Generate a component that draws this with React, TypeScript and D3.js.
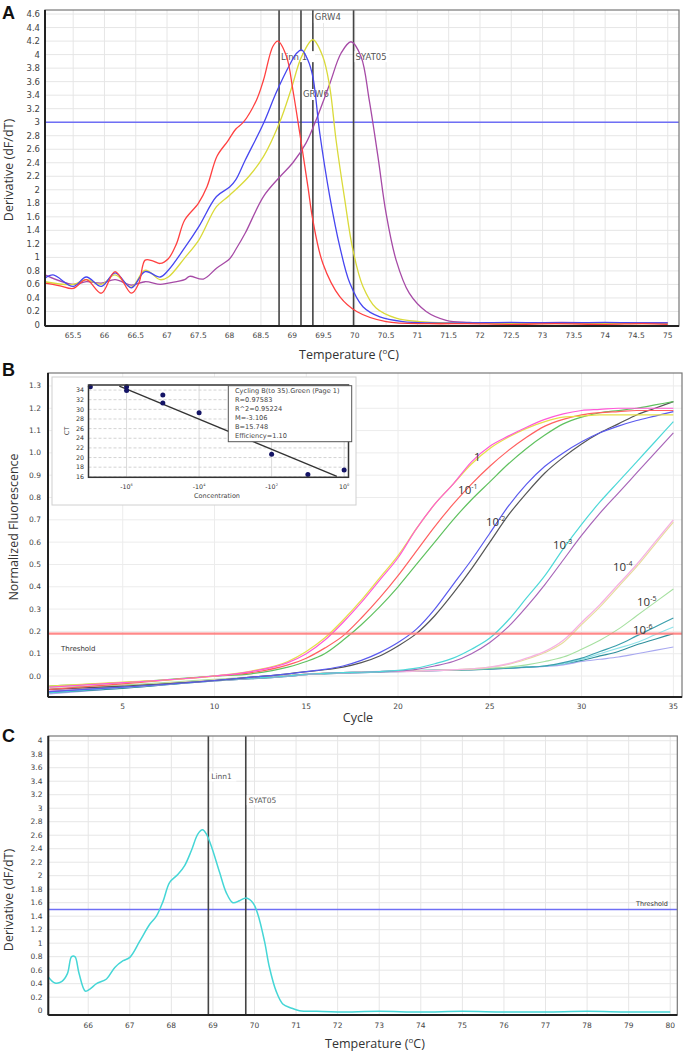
import React from "react";
import * as d3 from "d3";

type P = [number, number];

// ---------------- Panel A: melt curves (4 markers) ----------------
const aTempTicks = [65.5, 66, 66.5, 67, 67.5, 68, 68.5, 69, 69.5, 70, 70.5, 71, 71.5, 72, 72.5, 73, 73.5, 74, 74.5, 75];
const aDerivTicks = [0, 0.2, 0.4, 0.6, 0.8, 1, 1.2, 1.4, 1.6, 1.8, 2, 2.2, 2.4, 2.6, 2.8, 3, 3.2, 3.4, 3.6, 3.8, 4, 4.2, 4.4, 4.6];
const aThreshold = 3.0;

const meltRed: P[] = [
  [65.05, 0.62], [65.29, 0.58], [65.5, 0.54], [65.71, 0.67], [65.95, 0.47], [66.17, 0.79], [66.43, 0.47], [66.55, 0.62],
  [66.65, 0.96], [66.77, 0.95], [66.89, 0.91], [67.02, 0.98], [67.15, 1.2], [67.28, 1.55], [67.5, 1.8], [67.64, 2.05],
  [67.8, 2.5], [67.97, 2.72], [68.1, 2.9], [68.22, 3.0], [68.43, 3.33], [68.54, 3.62], [68.69, 4.12], [68.77, 4.2],
  [68.91, 3.97], [69.01, 3.48], [69.12, 2.84], [69.25, 2.05], [69.33, 1.55], [69.49, 0.91], [69.76, 0.42], [70.03, 0.2],
  [70.5, 0.05], [71.2, 0.02], [71.8, 0.02], [72.5, 0.01], [73.2, 0.02], [74.0, 0.01], [74.6, 0.02], [75.0, 0.01],
];
const meltBlue: P[] = [
  [65.05, 0.69], [65.18, 0.74], [65.5, 0.57], [65.71, 0.71], [65.95, 0.57], [66.17, 0.77], [66.43, 0.55], [66.65, 0.79],
  [66.89, 0.71], [67.02, 0.81], [67.28, 1.14], [67.51, 1.46], [67.79, 1.9], [68.0, 2.04], [68.1, 2.15], [68.25, 2.44],
  [68.54, 2.98], [68.75, 3.45], [68.96, 3.85], [69.07, 4.02], [69.15, 4.07], [69.25, 3.92], [69.33, 3.67], [69.44, 2.84],
  [69.6, 1.9], [69.76, 1.16], [69.92, 0.62], [70.13, 0.27], [70.4, 0.12], [70.77, 0.05], [71.2, 0.03], [71.8, 0.03],
  [72.5, 0.04], [73.2, 0.03], [74.0, 0.04], [74.6, 0.03], [75.0, 0.03],
];
const meltYellow: P[] = [
  [65.05, 0.64], [65.5, 0.6], [65.71, 0.67], [65.95, 0.6], [66.17, 0.74], [66.43, 0.56], [66.65, 0.81], [66.89, 0.67],
  [67.02, 0.71], [67.28, 0.99], [67.51, 1.26], [67.79, 1.75], [68.0, 1.92], [68.3, 2.19], [68.54, 2.49], [68.8, 3.0],
  [68.98, 3.48], [69.15, 3.97], [69.33, 4.22], [69.49, 3.97], [69.6, 3.52], [69.7, 2.74], [69.84, 1.85], [69.97, 1.11],
  [70.13, 0.57], [70.34, 0.25], [70.66, 0.1], [71.04, 0.05], [71.6, 0.03], [72.5, 0.02], [73.5, 0.02], [74.5, 0.02], [75.0, 0.02],
];
const meltPurple: P[] = [
  [65.05, 0.74], [65.5, 0.6], [65.71, 0.64], [65.95, 0.62], [66.17, 0.67], [66.43, 0.59], [66.65, 0.64], [66.89, 0.6],
  [67.02, 0.62], [67.28, 0.67], [67.36, 0.72], [67.58, 0.68], [67.79, 0.84], [68.0, 0.98], [68.1, 1.12], [68.25, 1.36],
  [68.54, 1.9], [68.8, 2.19], [69.01, 2.4], [69.22, 2.69], [69.38, 3.03], [69.6, 3.57], [69.78, 4.02], [69.94, 4.19],
  [70.1, 3.97], [70.23, 3.33], [70.37, 2.49], [70.5, 1.65], [70.66, 0.96], [70.87, 0.47], [71.14, 0.2], [71.46, 0.07],
  [71.83, 0.04], [72.5, 0.03], [73.3, 0.04], [74.2, 0.03], [75.0, 0.03],
];
const aMarkerNames = ["Linn 1", "GRW6", "GRW4", "SYAT05"];
const aMarkerTemps = [68.79, 69.14, 69.33, 69.98];
const aMarkerLabelV = [3.97, 3.41, 4.55, 3.97];

// ---------------- Panel B: amplification curves ----------------
const bCycleTicks = [5, 10, 15, 20, 25, 30, 35];
const bFluorTicks = [0.0, 0.1, 0.2, 0.3, 0.4, 0.5, 0.6, 0.7, 0.8, 0.9, 1.0, 1.1, 1.2, 1.3];
const bThreshold = 0.19;
const cycles = [1, 5, 10, 12, 14, 15, 16, 17, 18, 19, 20, 21, 22, 23, 24, 25, 26, 27, 28, 29, 30, 31, 32, 33, 34, 35];

const ampPink = [-0.05, -0.03, 0.0, 0.02, 0.06, 0.10, 0.16, 0.24, 0.33, 0.43, 0.53, 0.66, 0.77, 0.86, 0.96, 1.03, 1.075, 1.115, 1.15, 1.175, 1.19, 1.195, 1.2, 1.2, 1.2, 1.2];
const ampYellow = [-0.045, -0.028, 0.0, 0.022, 0.065, 0.11, 0.17, 0.25, 0.34, 0.44, 0.54, 0.66, 0.77, 0.86, 0.95, 1.02, 1.07, 1.11, 1.14, 1.16, 1.165, 1.17, 1.17, 1.17, 1.17, 1.17];
const ampRed = [-0.06, -0.035, 0.0, 0.015, 0.05, 0.08, 0.125, 0.18, 0.26, 0.35, 0.45, 0.56, 0.67, 0.77, 0.86, 0.94, 1.01, 1.07, 1.12, 1.15, 1.17, 1.18, 1.185, 1.19, 1.19, 1.19];
const ampGreen = [-0.045, -0.03, 0.0, 0.01, 0.04, 0.065, 0.10, 0.16, 0.23, 0.31, 0.40, 0.50, 0.60, 0.70, 0.79, 0.87, 0.95, 1.02, 1.08, 1.13, 1.16, 1.18, 1.19, 1.2, 1.215, 1.23];
const ampBlue = [-0.07, -0.05, -0.02, -0.005, 0.01, 0.02, 0.03, 0.045, 0.07, 0.105, 0.15, 0.21, 0.30, 0.41, 0.52, 0.64, 0.76, 0.86, 0.94, 1.0, 1.05, 1.09, 1.12, 1.145, 1.165, 1.185];
const ampGray = [-0.06, -0.045, -0.02, -0.005, 0.01, 0.02, 0.028, 0.04, 0.06, 0.09, 0.135, 0.19, 0.27, 0.37, 0.48, 0.60, 0.72, 0.82, 0.91, 0.98, 1.04, 1.09, 1.13, 1.17, 1.2, 1.23];
const ampCyan = [-0.075, -0.05, -0.02, -0.01, 0.0, 0.008, 0.012, 0.015, 0.017, 0.02, 0.025, 0.035, 0.055, 0.08, 0.12, 0.17, 0.25, 0.35, 0.45, 0.57, 0.68, 0.78, 0.87, 0.96, 1.05, 1.14];
const ampPurple = [-0.07, -0.05, -0.02, -0.01, 0.0, 0.008, 0.012, 0.015, 0.017, 0.02, 0.023, 0.03, 0.045, 0.065, 0.10, 0.15, 0.22, 0.31, 0.41, 0.52, 0.63, 0.73, 0.82, 0.91, 1.0, 1.09];
const ampLightPink = [-0.065, -0.05, -0.02, -0.01, 0.0, 0.008, 0.012, 0.015, 0.017, 0.02, 0.02, 0.022, 0.025, 0.028, 0.032, 0.04, 0.055, 0.08, 0.11, 0.16, 0.24, 0.32, 0.41, 0.50, 0.60, 0.70];
const ampLightYellow = [-0.06, -0.045, -0.018, -0.008, 0.002, 0.01, 0.013, 0.016, 0.018, 0.02, 0.021, 0.023, 0.025, 0.028, 0.032, 0.04, 0.052, 0.075, 0.105, 0.15, 0.23, 0.31, 0.40, 0.49, 0.59, 0.69];
const ampLightGreen = [-0.05, -0.04, -0.015, -0.005, 0.003, 0.008, 0.012, 0.015, 0.017, 0.02, 0.022, 0.024, 0.026, 0.028, 0.03, 0.035, 0.04, 0.05, 0.065, 0.085, 0.12, 0.16, 0.21, 0.27, 0.33, 0.39];
const ampTeal = [-0.07, -0.05, -0.02, -0.01, 0.0, 0.008, 0.012, 0.015, 0.017, 0.02, 0.022, 0.024, 0.026, 0.028, 0.03, 0.033, 0.035, 0.04, 0.045, 0.06, 0.08, 0.11, 0.14, 0.18, 0.22, 0.26];
const ampLightCyan = [-0.07, -0.05, -0.02, -0.01, 0.0, 0.008, 0.012, 0.015, 0.017, 0.02, 0.022, 0.024, 0.026, 0.028, 0.03, 0.033, 0.037, 0.04, 0.045, 0.055, 0.075, 0.10, 0.125, 0.15, 0.185, 0.22];
const ampTeal2 = [-0.075, -0.055, -0.022, -0.012, -0.002, 0.006, 0.01, 0.013, 0.015, 0.018, 0.02, 0.022, 0.024, 0.026, 0.028, 0.031, 0.035, 0.04, 0.045, 0.055, 0.07, 0.09, 0.11, 0.14, 0.165, 0.19];
const ampLightPurple = [-0.08, -0.055, -0.022, -0.012, -0.002, 0.006, 0.01, 0.013, 0.015, 0.018, 0.02, 0.022, 0.024, 0.026, 0.028, 0.031, 0.034, 0.038, 0.043, 0.05, 0.065, 0.075, 0.085, 0.10, 0.115, 0.13];

const dilutionBase = ["1", "10", "10", "10", "10", "10", "10"];
const dilutionExp = ["", "-1", "-2", "-3", "-4", "-5", "-6"];
const dilutionCycle = [24.14, 23.27, 24.79, 28.44, 31.71, 33.02, 32.8];
const dilutionFluor = [0.964, 0.816, 0.672, 0.569, 0.471, 0.314, 0.188];

// inset standard curve
const insetLog = [-7, -6, -6, -5, -5, -4, -2, -1, 0];
const insetCT = [34.7, 34.7, 33.9, 33.0, 31.3, 29.3, 20.7, 16.5, 17.4];
const insetFitLog = [-6.2, -0.2];
const insetFitCT = [34.8, 16.1];
const insetCTTicks = [16, 18, 20, 22, 24, 26, 28, 30, 32, 34];
const insetLogTicks = [-6, -4, -2, 0];
const insetLogLabels = ["-10", "-10", "-10", "10"];
const insetLogSup = ["6", "4", "2", "0"];
const insetLegend = ["Cycling B(to 35).Green (Page 1)", "R=0.97583", "R^2=0.95224", "M=-3.106", "B=15.748", "Efficiency=1.10"];

// ---------------- Panel C: melt curve ----------------
const cTempTicks = [66, 67, 68, 69, 70, 71, 72, 73, 74, 75, 76, 77, 78, 79, 80];
const cDerivTicks = [0, 0.2, 0.4, 0.6, 0.8, 1, 1.2, 1.4, 1.6, 1.8, 2, 2.2, 2.4, 2.6, 2.8, 3, 3.2, 3.4, 3.6, 3.8, 4];
const cThreshold = 1.5;
const meltCyan: P[] = [
  [65.04, 0.5], [65.2, 0.41], [65.36, 0.43], [65.5, 0.55], [65.6, 0.8], [65.68, 0.8], [65.78, 0.55], [65.93, 0.29],
  [66.04, 0.32], [66.2, 0.4], [66.44, 0.47], [66.64, 0.64], [66.84, 0.74], [67.0, 0.79], [67.24, 1.03], [67.48, 1.28],
  [67.64, 1.4], [67.8, 1.62], [67.96, 1.9], [68.16, 2.02], [68.32, 2.15], [68.48, 2.37], [68.64, 2.62], [68.75, 2.68],
  [68.84, 2.62], [68.96, 2.44], [69.16, 2.05], [69.32, 1.75], [69.48, 1.6], [69.64, 1.63], [69.8, 1.67], [69.96, 1.6],
  [70.08, 1.43], [70.24, 1.03], [70.36, 0.64], [70.52, 0.29], [70.68, 0.1], [70.88, 0.04], [71.08, 0.0], [71.5, -0.01],
  [72, -0.02], [73, -0.01], [74, -0.02], [75, -0.01], [76, -0.02], [77, -0.02], [78, -0.01], [79, -0.02], [80, -0.02],
];
const cMarkerNames = ["Linn1", "SYAT05"];
const cMarkerTemps = [68.89, 69.79];
const cMarkerLabelV = [3.47, 3.12];

const fmt = (v: number) => String(+v.toFixed(1));
const TICK_COLOR = "#444";
const GRID = "#e6e6e6";

function Frame({ x0, x1, y0, y1 }: { x0: number; x1: number; y0: number; y1: number }) {
  return (
    <g>
      <rect x={x0} y={y0} width={x1 - x0} height={y1 - y0} fill="none" stroke="#777" strokeWidth={1.2} />
      <line x1={x0} x2={x0} y1={y0} y2={y1} stroke="#222" strokeWidth={2} />
      <line x1={x0} x2={x1} y1={y1} y2={y1} stroke="#222" strokeWidth={2} />
    </g>
  );
}

export default function App() {
  const smooth = d3.curveCatmullRom.alpha(0.5);
  // Panel A scales
  const ax = d3.scaleLinear().domain([65.05, 75.18]).range([45, 679]);
  const ay = d3.scaleLinear().domain([-0.015, 4.66]).range([326, 10]);
  const aLine = d3.line<P>().x((d) => ax(d[0])).y((d) => ay(d[1])).curve(smooth);

  // Panel B scales
  const bx = d3.scaleLinear().domain([0.93, 35.47]).range([48, 682]);
  const by = d3.scaleLinear().domain([-0.094, 1.358]).range([697, 373]);
  const bLine = d3.line<P>().x((d) => bx(d[0])).y((d) => by(d[1])).curve(d3.curveMonotoneX);
  const ampSeries: { v: number[]; c: string; w: number }[] = [
    { v: ampLightPurple, c: "#a8a8f0", w: 1.1 },
    { v: ampTeal2, c: "#2f8f9c", w: 1.2 },
    { v: ampLightCyan, c: "#8fe3ea", w: 1.1 },
    { v: ampTeal, c: "#3b9fad", w: 1.2 },
    { v: ampLightGreen, c: "#a6e0a0", w: 1.1 },
    { v: ampLightYellow, c: "#e6dc9a", w: 1.1 },
    { v: ampLightPink, c: "#f6b3e2", w: 1.4 },
    { v: ampPurple, c: "#a865b8", w: 1.2 },
    { v: ampCyan, c: "#4ed8d8", w: 1.2 },
    { v: ampGray, c: "#555555", w: 1.2 },
    { v: ampBlue, c: "#5a5aee", w: 1.2 },
    { v: ampGreen, c: "#5fc15f", w: 1.2 },
    { v: ampRed, c: "#ff6060", w: 1.2 },
    { v: ampYellow, c: "#e6e04a", w: 1.3 },
    { v: ampPink, c: "#ff5ad8", w: 1.2 },
  ];

  // inset scales
  const ix = d3.scaleLinear().domain([-7.05, 0.12]).range([88.5, 348.5]);
  const iy = d3.scaleLinear().domain([15.9, 35.05]).range([477.3, 385]);

  // Panel C scales
  const cx = d3.scaleLinear().domain([65.04, 80.17]).range([48.3, 677.3]);
  const cy = d3.scaleLinear().domain([-0.064, 4.07]).range([1015, 736]);
  const cLine = d3.line<P>().x((d) => cx(d[0])).y((d) => cy(d[1])).curve(smooth);

  const titleFont = "'Open Sans', 'Noto Sans', sans-serif";

  return (
    <svg width={685} height={1052} style={{ position: "absolute", left: 0, top: 0, background: "#fff" }} fontFamily="'DejaVu Sans', sans-serif">
      <defs>
        <clipPath id="clipA"><rect x={45} y={10} width={634} height={316} /></clipPath>
        <clipPath id="clipB"><rect x={48} y={373} width={634} height={324} /></clipPath>
        <clipPath id="clipC"><rect x={48.3} y={736} width={629} height={279} /></clipPath>
      </defs>
      <rect x={0} y={0} width={685} height={1052} fill="#fff" />

      {/* ================= Panel A ================= */}
      <text x={2} y={19} fontFamily="'Liberation Sans', Arial, sans-serif" fontWeight="bold" fontSize={18} fill="#111">A</text>
      <g>
        {aTempTicks.map((t) => (
          <line key={"agx" + t} x1={ax(t)} x2={ax(t)} y1={10} y2={326} stroke={GRID} strokeWidth={1} />
        ))}
        {aDerivTicks.filter((v) => v > 0).map((v) => (
          <line key={"agy" + v} x1={45} x2={679} y1={ay(v)} y2={ay(v)} stroke={GRID} strokeWidth={1} />
        ))}
        <line x1={45} x2={679} y1={ay(aThreshold)} y2={ay(aThreshold)} stroke="#6f6ff5" strokeWidth={1.5} />
        {aMarkerTemps.map((t, i) => (
          <line key={"am" + i} x1={ax(t)} x2={ax(t)} y1={10} y2={326} stroke="#444" strokeWidth={1.6} />
        ))}
        {aMarkerTemps.map((t, i) => {
          const w = aMarkerNames[i].length * 5.3 + 3;
          return (
            <g key={"aml" + i}>
              <rect x={ax(t) + 1} y={ay(aMarkerLabelV[i]) - 5.5} width={w} height={11} fill="#fff" />
              <text x={ax(t) + 2} y={ay(aMarkerLabelV[i]) + 3} fontSize={8.5} fill="#555">{aMarkerNames[i]}</text>
            </g>
          );
        })}
        <g clipPath="url(#clipA)" fill="none" strokeWidth={1.3}>
          <path d={aLine(meltPurple) || ""} stroke="#a64aa6" />
          <path d={aLine(meltYellow) || ""} stroke="#dada3a" />
          <path d={aLine(meltBlue) || ""} stroke="#4646f0" />
          <path d={aLine(meltRed) || ""} stroke="#ff4040" />
        </g>
        <Frame x0={45} x1={679} y0={10} y1={326} />
        {aDerivTicks.map((v) => (
          <text key={"ayt" + v} x={40} y={ay(v) + 3} fontSize={8.5} textAnchor="end" fill={TICK_COLOR}>{fmt(v)}</text>
        ))}
        {aTempTicks.map((t) => (
          <text key={"axt" + t} x={ax(t)} y={338} fontSize={7.5} textAnchor="middle" fill={TICK_COLOR}>{fmt(t)}</text>
        ))}
        <text transform={`translate(13,170) rotate(-90)`} textAnchor="middle" fontSize={12.5} fontFamily={titleFont} fill="#333">Derivative (dF/dT)</text>
        <text x={349} y={359} textAnchor="middle" fontSize={12.5} fontFamily={titleFont} fill="#333">
          Temperature (<tspan dy={-5} fontSize={8}>o</tspan><tspan dy={5}>C)</tspan>
        </text>
      </g>

      {/* ================= Panel B ================= */}
      <text x={2} y={376} fontFamily="'Liberation Sans', Arial, sans-serif" fontWeight="bold" fontSize={18} fill="#111">B</text>
      <g>
        {bCycleTicks.map((t) => (
          <line key={"bgx" + t} x1={bx(t)} x2={bx(t)} y1={373} y2={697} stroke="#ececec" strokeWidth={1} />
        ))}
        {bFluorTicks.map((v) => (
          <line key={"bgy" + v} x1={48} x2={682} y1={by(v)} y2={by(v)} stroke="#ececec" strokeWidth={1} />
        ))}
        <g clipPath="url(#clipB)" fill="none">
          {ampSeries.map((s, i) => (
            <path key={"amp" + i} d={bLine(cycles.map((c, k) => [c, s.v[k]] as P)) || ""} stroke={s.c} strokeWidth={s.w} />
          ))}
        </g>
        <line x1={48} x2={682} y1={by(bThreshold)} y2={by(bThreshold)} stroke="#ff7d7d" strokeWidth={2.2} opacity={0.9} />
        <text x={61} y={651} fontSize={7} fill="#333">Threshold</text>
        {dilutionBase.map((b, i) => (
          <text key={"dl" + i} x={bx(dilutionCycle[i])} y={by(dilutionFluor[i])} fontSize={11.5} fill="#333" fontFamily={titleFont}>
            {b}
            {dilutionExp[i] && <tspan dy={-5} fontSize={7}>{dilutionExp[i]}</tspan>}
          </text>
        ))}
        <Frame x0={48} x1={682} y0={373} y1={697} />
        {bFluorTicks.map((v) => (
          <text key={"byt" + v} x={41} y={by(v) + 2.5} fontSize={7.5} textAnchor="end" fill={TICK_COLOR}>{v.toFixed(1)}</text>
        ))}
        {bCycleTicks.map((t) => (
          <text key={"bxt" + t} x={bx(t)} y={708.5} fontSize={7.5} textAnchor="middle" fill={TICK_COLOR}>{t}</text>
        ))}
        <text transform={`translate(18,527) rotate(-90)`} textAnchor="middle" fontSize={12.5} fontFamily={titleFont} fill="#333">Normalized Fluorescence</text>
        <text x={358} y={722} textAnchor="middle" fontSize={12.5} fontFamily={titleFont} fill="#333">Cycle</text>

        {/* inset */}
        <rect x={52} y={377} width={304} height={128} fill="#fff" stroke="#d0d0d0" strokeWidth={1} />
        {insetCTTicks.map((v) => (
          <line key={"igy" + v} x1={88.5} x2={348.5} y1={iy(v)} y2={iy(v)} stroke="#c8c8c8" strokeWidth={0.8} strokeDasharray="3,2" />
        ))}
        {insetLogTicks.map((t) => (
          <line key={"igx" + t} x1={ix(t)} x2={ix(t)} y1={385} y2={477.3} stroke="#d0d0d0" strokeWidth={0.8} />
        ))}
        <line x1={ix(insetFitLog[0])} y1={iy(insetFitCT[0])} x2={ix(insetFitLog[1])} y2={iy(insetFitCT[1])} stroke="#333" strokeWidth={1.3} />
        {insetLog.map((l, i) => (
          <circle key={"ip" + i} cx={ix(l)} cy={iy(insetCT[i])} r={2.5} fill="#141466" />
        ))}
        <rect x={88.5} y={385} width={260} height={92.3} fill="none" stroke="#333" strokeWidth={1.5} />
        {insetCTTicks.map((v) => (
          <text key={"iyt" + v} x={84} y={iy(v) + 2.2} fontSize={6.3} textAnchor="end" fill="#333">{v}</text>
        ))}
        {insetLogTicks.map((t, i) => (
          <text key={"ixt" + t} x={ix(t)} y={489} fontSize={6.3} textAnchor="middle" fill="#333">
            {insetLogLabels[i]}<tspan dy={-3} fontSize={3.5}>{insetLogSup[i]}</tspan>
          </text>
        ))}
        <text transform={`translate(69,431) rotate(-90)`} textAnchor="middle" fontSize={6.5} fill="#444">CT</text>
        <text x={217} y={497.5} textAnchor="middle" fontSize={6.5} fill="#444">Concentration</text>
        <rect x={228.3} y={385.7} width={123.4} height={56} fill="#fff" stroke="#555" strokeWidth={1} />
        {insetLegend.map((s, i) => (
          <text key={"ilg" + i} x={235} y={392.6 + i * 9.1} fontSize={6.6} fill="#444">{s}</text>
        ))}
      </g>

      {/* ================= Panel C ================= */}
      <text x={2} y={742} fontFamily="'Liberation Sans', Arial, sans-serif" fontWeight="bold" fontSize={18} fill="#111">C</text>
      <g>
        {cTempTicks.map((t) => (
          <line key={"cgx" + t} x1={cx(t)} x2={cx(t)} y1={736} y2={1015} stroke={GRID} strokeWidth={1} />
        ))}
        {cDerivTicks.filter((v) => v > 0).map((v) => (
          <line key={"cgy" + v} x1={48.3} x2={677.3} y1={cy(v)} y2={cy(v)} stroke={GRID} strokeWidth={1} />
        ))}
        <line x1={48.3} x2={677.3} y1={cy(cThreshold)} y2={cy(cThreshold)} stroke="#6f6ff5" strokeWidth={1.5} />
        <text x={668} y={906} fontSize={6.5} textAnchor="end" fill="#333">Threshold</text>
        {cMarkerTemps.map((t, i) => (
          <line key={"cm" + i} x1={cx(t)} x2={cx(t)} y1={736} y2={1015} stroke="#444" strokeWidth={1.6} />
        ))}
        {cMarkerTemps.map((t, i) => {
          const w = cMarkerNames[i].length * 4.8 + 3;
          return (
            <g key={"cml" + i}>
              <rect x={cx(t) + 1} y={cy(cMarkerLabelV[i]) - 5} width={w} height={10} fill="#fff" />
              <text x={cx(t) + 3} y={cy(cMarkerLabelV[i]) + 2.5} fontSize={7.5} fill="#555">{cMarkerNames[i]}</text>
            </g>
          );
        })}
        <g clipPath="url(#clipC)" fill="none">
          <path d={cLine(meltCyan) || ""} stroke="#45d6d6" strokeWidth={1.5} />
        </g>
        <Frame x0={48.3} x1={677.3} y0={736} y1={1015} />
        {cDerivTicks.map((v) => (
          <text key={"cyt" + v} x={42.5} y={cy(v) + 2.5} fontSize={7.5} textAnchor="end" fill={TICK_COLOR}>{fmt(v)}</text>
        ))}
        {cTempTicks.map((t) => (
          <text key={"cxt" + t} x={cx(t)} y={1028} fontSize={7.5} textAnchor="middle" fill={TICK_COLOR}>{t}</text>
        ))}
        <text transform={`translate(13,900) rotate(-90)`} textAnchor="middle" fontSize={12.5} fontFamily={titleFont} fill="#333">Derivative (dF/dT)</text>
        <text x={375} y={1048} textAnchor="middle" fontSize={12.5} fontFamily={titleFont} fill="#333">
          Temperature (<tspan dy={-5} fontSize={8}>o</tspan><tspan dy={5}>C)</tspan>
        </text>
      </g>
    </svg>
  );
}
